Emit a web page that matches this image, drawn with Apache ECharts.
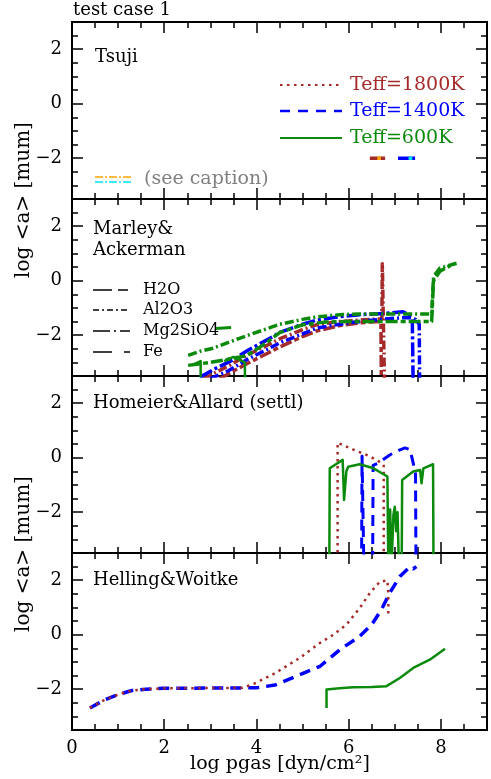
<!DOCTYPE html>
<html><head><meta charset="utf-8">
<script src="https://cdn.jsdelivr.net/npm/echarts@6/dist/echarts.min.js"></script>
<style>html,body{margin:0;padding:0;background:#fff}#c{width:491px;height:779px}</style>
</head><body><div id="c"></div>
<script>
// ---------- data ----------
const xMajorTicks = [0, 2, 4, 6, 8];
const yMajorTicks = [-2, 0, 2];
const panelTitles = ['Tsuji', 'Marley&\nAckerman', 'Homeier&Allard (settl)', 'Helling&Woitke'];
const teffLabels = ['Teff=1800K', 'Teff=1400K', 'Teff=600K'];
const speciesLabels = ['H2O', 'Al2O3', 'Mg2SiO4', 'Fe'];

// Panel 1 (Tsuji)
const tsuji1800 = [[6.46, -2.0], [6.79, -2.0]];
const tsuji1800b = [[6.62, -2.0], [6.70, -2.0]];
const tsuji1400 = [[7.07, -2.0], [7.44, -2.0]];
const tsuji1400b = [[7.30, -2.0], [7.38, -2.0]];

// Panel 2 (Marley & Ackerman)
const ma600a = [[2.52,-2.74],[2.8,-2.58],[3.06,-2.48],[3.5,-2.2],[3.79,-2.02],[4.2,-1.78],[4.51,-1.6],[5.0,-1.42],[5.3,-1.33],[5.8,-1.25],[6.24,-1.22],[7.0,-1.22],[7.8,-1.22],[7.84,0.15],[7.98,0.46],[8.34,0.64]];
const ma600b = [[2.52,-3.11],[3.0,-3.0],[3.5,-2.85],[3.79,-2.75],[4.2,-2.3],[4.51,-1.9],[5.0,-1.62],[5.5,-1.52],[6.0,-1.5],[7.0,-1.5],[7.8,-1.5],[7.84,0.0],[7.98,0.35],[8.2,0.55]];
const ma600c = [[2.6,-3.1],[2.79,-2.95],[2.79,-4.0]];
const ma600d = [[3.3,-2.95],[3.5,-2.8],[3.75,-3.0],[3.75,-4.0]];
const ma600e = [[3.12,-1.76],[3.45,-1.72]];
const ma1400a = [[2.77,-3.55],[3.06,-3.27],[3.5,-2.9],[3.79,-2.58],[4.2,-2.2],[4.51,-1.9],[5.0,-1.6],[5.3,-1.45],[5.8,-1.32],[6.24,-1.25],[6.8,-1.2],[7.18,-1.14],[7.3,-1.25],[7.38,-1.4],[7.4,-4.0]];
const ma1400b = [[3.0,-3.6],[3.4,-3.3],[3.79,-2.9],[4.2,-2.55],[4.51,-2.28],[5.0,-1.95],[5.3,-1.75],[5.6,-1.65],[6.0,-1.55],[6.5,-1.45],[7.0,-1.38],[7.3,-1.35],[7.45,-1.42],[7.53,-1.6],[7.54,-4.0]];
const ma1800a = [[2.85,-3.6],[3.43,-3.1],[3.79,-2.74],[4.2,-2.4],[4.51,-2.13],[5.0,-1.8],[5.3,-1.62],[5.8,-1.5],[6.24,-1.45],[6.5,-1.42],[6.72,-1.4],[6.73,0.62],[6.77,0.55],[6.78,-4.0]];
const ma1800b = [[3.2,-3.6],[3.79,-3.05],[4.2,-2.7],[4.51,-2.43],[5.0,-2.05],[5.3,-1.85],[5.8,-1.65],[6.24,-1.55],[6.53,-1.51],[6.7,-1.5],[6.71,-4.0]];

// Panel 3 (Homeier & Allard)
const ha1800 = [[5.76,-4.0],[5.76,0.55],[6.1,0.3],[6.46,0.05],[6.72,-0.2],[6.76,-0.3],[6.76,-4.0]];
const ha1400 = [[6.28,-4.0],[6.29,0.05],[6.33,-4.0],[6.52,-4.0],[6.53,-0.28],[6.64,-0.2],[6.89,0.1],[7.1,0.28],[7.22,0.36],[7.33,0.3],[7.40,-0.2],[7.45,-0.6],[7.46,-4.0]];
const ha600 = [[5.58,-4.0],[5.59,-0.39],[5.87,-0.08],[5.90,-1.55],[5.95,-0.5],[5.99,-0.33],[6.24,-0.24],[6.54,-0.39],[6.84,-0.69],[6.86,-4.0],[6.9,-1.9],[6.93,-4.0],[6.97,-2.1],[7.0,-1.8],[7.03,-2.7],[7.06,-2.0],[7.09,-4.0],[7.15,-4.0],[7.16,-0.82],[7.40,-0.51],[7.55,-0.45],[7.58,-0.94],[7.62,-0.39],[7.83,-0.24],[7.84,-4.0]];

// Panel 4 (Helling & Woitke)
const hw1800 = [[0.39,-2.69],[0.7,-2.40],[1.0,-2.2],[1.3,-2.05],[1.6,-2.0],[2.0,-1.97],[3.0,-1.96],[3.7,-1.95],[3.95,-1.80],[4.4,-1.42],[4.94,-0.85],[5.38,-0.30],[5.67,0.0],[5.95,0.37],[6.24,0.98],[6.46,1.53],[6.68,1.95],[6.84,1.99],[6.86,1.5],[6.86,0.65]];
const hw1400 = [[0.39,-2.69],[0.7,-2.40],[1.0,-2.2],[1.3,-2.05],[1.6,-2.0],[2.0,-1.97],[3.0,-1.96],[4.0,-1.95],[4.4,-1.85],[4.94,-1.47],[5.38,-1.16],[5.81,-0.55],[6.24,-0.06],[6.5,0.37],[6.71,0.92],[6.89,1.53],[7.11,2.14],[7.33,2.5],[7.40,2.42],[7.47,2.5]];
const hw600 = [[5.52,-2.69],[5.52,-2.01],[5.8,-1.97],[6.1,-1.93],[6.5,-1.92],[6.82,-1.89],[7.11,-1.59],[7.40,-1.22],[7.76,-0.92],[8.09,-0.52]];

// ---------- styles ----------
const FONT = 'DejaVu Serif';
const FS = 18;
const C18 = '#a52a2a', C14 = '#0000ff', C6 = '#0b8a0b';
const DOT = [2.5, 4.5], DASH = [11, 7], SOLID = 'solid';
const GL = 72, GW = 415, GH = 177, TOPS = [22, 199, 376, 553];

function xAxes(i, last) {
  const base = {gridIndex: i, type: 'value', min: 0, max: 9, axisLine: {show: false, onZero: false}, splitLine: {show: false}};
  const tk = (len) => ({inside: true, length: len, lineStyle: {color: '#000', width: 1.5}});
  return [
    Object.assign({}, base, {position: 'bottom', interval: 2, axisTick: tk(11),
      axisLabel: {show: last, margin: 9, color: '#000', fontSize: FS, fontFamily: FONT, customValues: xMajorTicks}}),
    Object.assign({}, base, {position: 'bottom', interval: 0.5, axisTick: tk(6), axisLabel: {show: false}}),
    Object.assign({}, base, {position: 'top', interval: 2, axisTick: tk(11), axisLabel: {show: false}}),
    Object.assign({}, base, {position: 'top', interval: 0.5, axisTick: tk(6), axisLabel: {show: false}})
  ];
}
function yAxes(i) {
  const base = {gridIndex: i, type: 'value', min: -3.5, max: 3, axisLine: {show: false, onZero: false}, splitLine: {show: false}};
  const tk = (len, cv) => Object.assign({inside: true, length: len, lineStyle: {color: '#000', width: 1.5}}, cv ? {customValues: cv} : {});
  return [
    Object.assign({}, base, {position: 'left', axisTick: tk(11, yMajorTicks),
      axisLabel: {margin: 10, color: '#000', fontSize: FS, fontFamily: FONT, customValues: yMajorTicks,
        formatter: v => String(v).replace('-', '\u2212')}}),
    Object.assign({}, base, {position: 'left', interval: 0.5, axisTick: tk(6), axisLabel: {show: false}}),
    Object.assign({}, base, {position: 'right', axisTick: tk(11, yMajorTicks), axisLabel: {show: false}}),
    Object.assign({}, base, {position: 'right', interval: 0.5, axisTick: tk(6), axisLabel: {show: false}})
  ];
}

const grids = [], xs = [], ys = [];
for (let i = 0; i < 4; i++) {
  grids.push({left: GL, top: TOPS[i], width: GW, height: GH, show: true, borderColor: '#000', borderWidth: 2, backgroundColor: 'transparent'});
  xs.push(...xAxes(i, i === 3));
  ys.push(...yAxes(i));
}

const series = [];
function add(panel, data, color, width, type, z) {
  series.push({type: 'line', xAxisIndex: panel * 4, yAxisIndex: panel * 4, data: data,
    showSymbol: false, symbol: 'none', clip: true, animation: false, silent: true, z: z || 2,
    lineStyle: {color: color, width: width, type: type, cap: 'butt', join: 'round'}});
}
// panel 1
add(0, tsuji1800, C18, 3.5, SOLID);
add(0, tsuji1800b, '#ffa500', 3.5, SOLID, 3);
add(0, tsuji1400, C14, 3.5, SOLID);
add(0, tsuji1400b, '#00e5ee', 3.5, SOLID, 3);
// panel 2
const DD = [9, 3, 2, 3], LD = [14, 3, 3, 3], LS = [12, 3, 5, 3];
add(1, ma1800b, C18, 3.5, LS);
add(1, ma1800a, C18, 3.5, DD);
add(1, ma1400b, C14, 3.5, DD);
add(1, ma1400a, C14, 3.5, LD);
add(1, ma600b, C6, 3.5, LS);
add(1, ma600a, C6, 3.5, DD);
add(1, ma600c, C6, 2.5, SOLID);
add(1, ma600d, C6, 2.5, SOLID);
add(1, ma600e, C6, 3, SOLID);
// panel 3
add(2, ha1800, C18, 2.5, DOT);
add(2, ha1400, C14, 3, DASH);
add(2, ha600, C6, 2.5, SOLID);
// panel 4
add(3, hw1400, C14, 3.5, DASH);
add(3, hw1800, C18, 2.5, DOT, 3);
add(3, hw600, C6, 2.5, SOLID);

function txt(x, y, s, opt) {
  return Object.assign({type: 'text', x: x, y: y, silent: true,
    style: Object.assign({text: s, fill: '#000', font: FS + 'px "' + FONT + '"', textAlign: 'left', textVerticalAlign: 'middle'}, opt || {})});
}
function ln(x1, y1, x2, y2, color, w, dash) {
  return {type: 'line', silent: true, shape: {x1, y1, x2, y2}, style: {stroke: color, lineWidth: w, lineDash: dash || null}};
}
const SF = {font: '16px "' + FONT + '"'};
const graphics = [
  txt(73, 10, 'test case 1'),
  txt(95, 57, panelTitles[0]),
  txt(93, 229, 'Marley&'),
  txt(93, 250, 'Ackerman'),
  txt(93, 403, panelTitles[2]),
  txt(93, 580, panelTitles[3]),
  // Teff legend
  ln(280, 85, 342, 85, C18, 2, DOT),
  ln(280, 111, 342, 111, C14, 2.5, [10, 8]),
  ln(280, 138, 342, 138, C6, 2, null),
  txt(350, 85, teffLabels[0], {fill: C18, font: '19px "' + FONT + '"'}),
  txt(350, 111, teffLabels[1], {fill: C14, font: '19px "' + FONT + '"'}),
  txt(350, 138, teffLabels[2], {fill: C6, font: '19px "' + FONT + '"'}),
  // see caption
  ln(95, 177, 131, 177, '#ffa500', 1.5, [8, 2, 2, 2]),
  ln(95, 182, 131, 182, '#00e5ee', 1.5, [8, 2, 2, 2]),
  txt(144, 179, '(see caption)', {fill: '#808080', font: '19px "' + FONT + '"'}),
  // species legend
  ln(93, 290, 130, 290, '#000', 1.5, [19, 6, 10, 6]),
  ln(93, 310, 130, 310, '#000', 1.5, [6, 3, 2, 3]),
  ln(93, 331, 130, 331, '#000', 1.5, [17, 4, 2, 4]),
  ln(93, 352, 130, 352, '#000', 1.5, [19, 12, 7, 12]),
  txt(143, 290, speciesLabels[0], SF),
  txt(143, 310, speciesLabels[1], SF),
  txt(143, 331, speciesLabels[2], SF),
  txt(143, 352, speciesLabels[3], SF),
  // axis names
  Object.assign(txt(24, 200, 'log <a> [mum]', {textAlign: 'center', font: '20px "' + FONT + '"'}), {rotation: Math.PI / 2}),
  Object.assign(txt(24, 554, 'log <a> [mum]', {textAlign: 'center', font: '20px "' + FONT + '"'}), {rotation: Math.PI / 2}),
  txt(280, 764, 'log pgas [dyn/cm\u00b2]', {textAlign: 'center', font: '19px "' + FONT + '"'})
];

const chart = echarts.init(document.getElementById('c'), null, {renderer: 'canvas'});
chart.setOption({
  animation: false,
  backgroundColor: '#fff',
  grid: grids, xAxis: xs, yAxis: ys, series: series,
  graphic: {elements: graphics}
});
</script></body></html>
